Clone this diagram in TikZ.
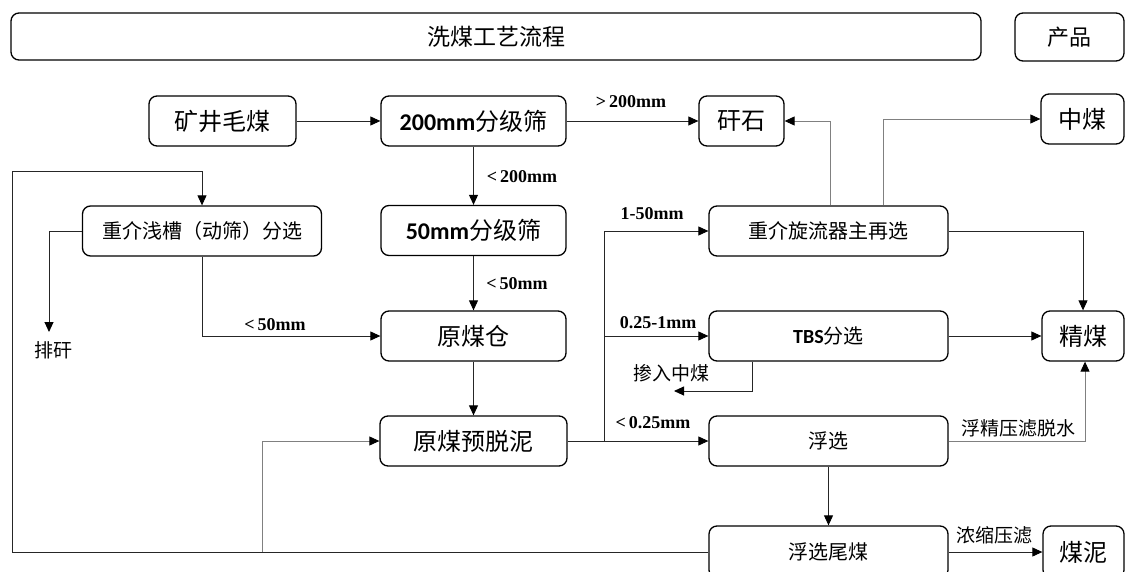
\documentclass[tikz,border=0pt]{standalone}
\usepackage{fontspec}
\setmainfont{Liberation Serif}
\newfontfamily\cjk{Noto Sans CJK SC}
\newfontfamily\calib{Carlito}
\usetikzlibrary{arrows.meta}
\tikzset{
  box/.style={draw=black, line width=1.3pt, rounded corners=8pt, inner sep=0pt, font=\cjk\fontsize{23}{23}\selectfont},
  bigbox/.style={box, font=\cjk\fontsize{24}{24}\selectfont},
  midbox/.style={box, font=\cjk\fontsize{20}{20}\selectfont},
  conn/.style={draw=black!85, line width=0.9pt, -{Triangle[length=10pt,width=9pt,color=black]}},
  grayconn/.style={conn, draw=black!50},
  lab/.style={font=\bfseries\fontsize{18}{18}\selectfont, inner sep=0pt},
  clab/.style={font=\cjk\fontsize{19}{19}\selectfont, inner sep=0pt},
}
\begin{document}
\begin{tikzpicture}[x=1pt,y=-1pt]
\clip (0,0) rectangle (1126,572);
\fill[white] (0,0) rectangle (1126,572);
% title row
\node[box, font=\cjk\fontsize{23}{23}\selectfont, minimum width=970pt, minimum height=47pt] (title) at (496,36.5) {洗煤工艺流程};
\node[box, font=\cjk\fontsize{22}{22}\selectfont, minimum width=109pt, minimum height=48pt] (prod) at (1069.5,37) {产品};
% boxes
\node[bigbox, minimum width=147pt, minimum height=50pt] (mine) at (222.5,121) {矿井毛煤};
\node[bigbox, minimum width=185pt, minimum height=50pt] (s200) at (473.5,121) {{\calib\bfseries 200mm}分级筛};
\node[bigbox, minimum width=85pt, minimum height=50pt] (gangue) at (741.5,121) {矸石};
\node[bigbox, minimum width=83pt, minimum height=50pt] (mid) at (1082.5,119) {中煤};
\node[midbox, minimum width=239pt, minimum height=50pt] (dms) at (202,231) {重介浅槽（动筛）分选};
\node[bigbox, minimum width=185pt, minimum height=50pt] (s50) at (473.5,230.5) {{\calib\bfseries 50mm}分级筛};
\node[midbox, minimum width=239pt, minimum height=50pt] (hmc) at (828.5,231) {重介旋流器主再选};
\node[bigbox, minimum width=185pt, minimum height=50pt] (bin) at (473.5,336) {原煤仓};
\node[midbox, minimum width=239pt, minimum height=50pt] (tbs) at (828.5,336) {{\calib\bfseries TBS}分选};
\node[bigbox, minimum width=82pt, minimum height=50pt] (clean) at (1083,336) {精煤};
\node[bigbox, minimum width=187pt, minimum height=50pt] (desl) at (473.5,441) {原煤预脱泥};
\node[midbox, minimum width=239pt, minimum height=50pt] (flot) at (828.5,441) {浮选};
\node[midbox, minimum width=239pt, minimum height=52pt] (tail) at (828.5,552) {浮选尾煤};
\node[bigbox, minimum width=81pt, minimum height=52pt] (slime) at (1083.5,552) {煤泥};
% coordinates
\coordinate (paiend) at (49,332);
\coordinate (loopL) at (12,171);
\coordinate (br) at (262,552);
\coordinate (trunkB) at (604,441);
\coordinate (trunkM) at (604,336);
\coordinate (mixend) at (674,391);
% connectors
\draw[conn] (mine) -- (s200);
\draw[conn] (s200) -- (gangue);
\draw[conn] (s200) -- (s50);
\draw[conn] (s50) -- (bin);
\draw[conn] (bin) -- (desl);
\draw[conn] (dms.south) |- (bin.west);
\draw[conn] (dms.west) -| (paiend);
\draw[conn] (tail.west) -| (loopL) -| (dms.north);
\draw[grayconn] (br) |- (desl.west);
\draw[conn] (desl) -- (flot);
\draw[conn] (trunkB) |- (hmc.west);
\draw[conn] (trunkM) -- (tbs.west);
\draw[conn] ([xshift=-76.5pt]tbs.south) |- (mixend);
\draw[grayconn] ([xshift=2pt]hmc.north) |- (gangue.east);
\draw[grayconn] ([xshift=54.5pt]hmc.north) |- (mid.west);
\draw[conn] (hmc.east) -| (clean.north);
\draw[conn] (tbs) -- (clean);
\draw[grayconn] (flot.east) -| ([xshift=2pt]clean.south);
\draw[conn] (flot) -- (tail);
\draw[conn] (tail) -- (slime);
% labels
\node[lab] (l1) at (631,102) {>\,200mm};
\node[lab] (l2) at (522,177) {<\,200mm};
\node[lab] (l3) at (517,284) {<\,50mm};
\node[lab] (l4) at (275,325) {<\,50mm};
\node[clab] (pai) at (53,350) {排矸};
\node[lab] (l5) at (652,214) {1-50mm};
\node[lab] (l6) at (658,323) {0.25-1mm};
\node[clab] (mix) at (671,373) {掺入中煤};
\node[lab] (l7) at (653,423) {<\,0.25mm};
\node[clab] (l8) at (1018,428) {浮精压滤脱水};
\node[clab] (l9) at (994,535) {浓缩压滤};
\end{tikzpicture}
\end{document}
